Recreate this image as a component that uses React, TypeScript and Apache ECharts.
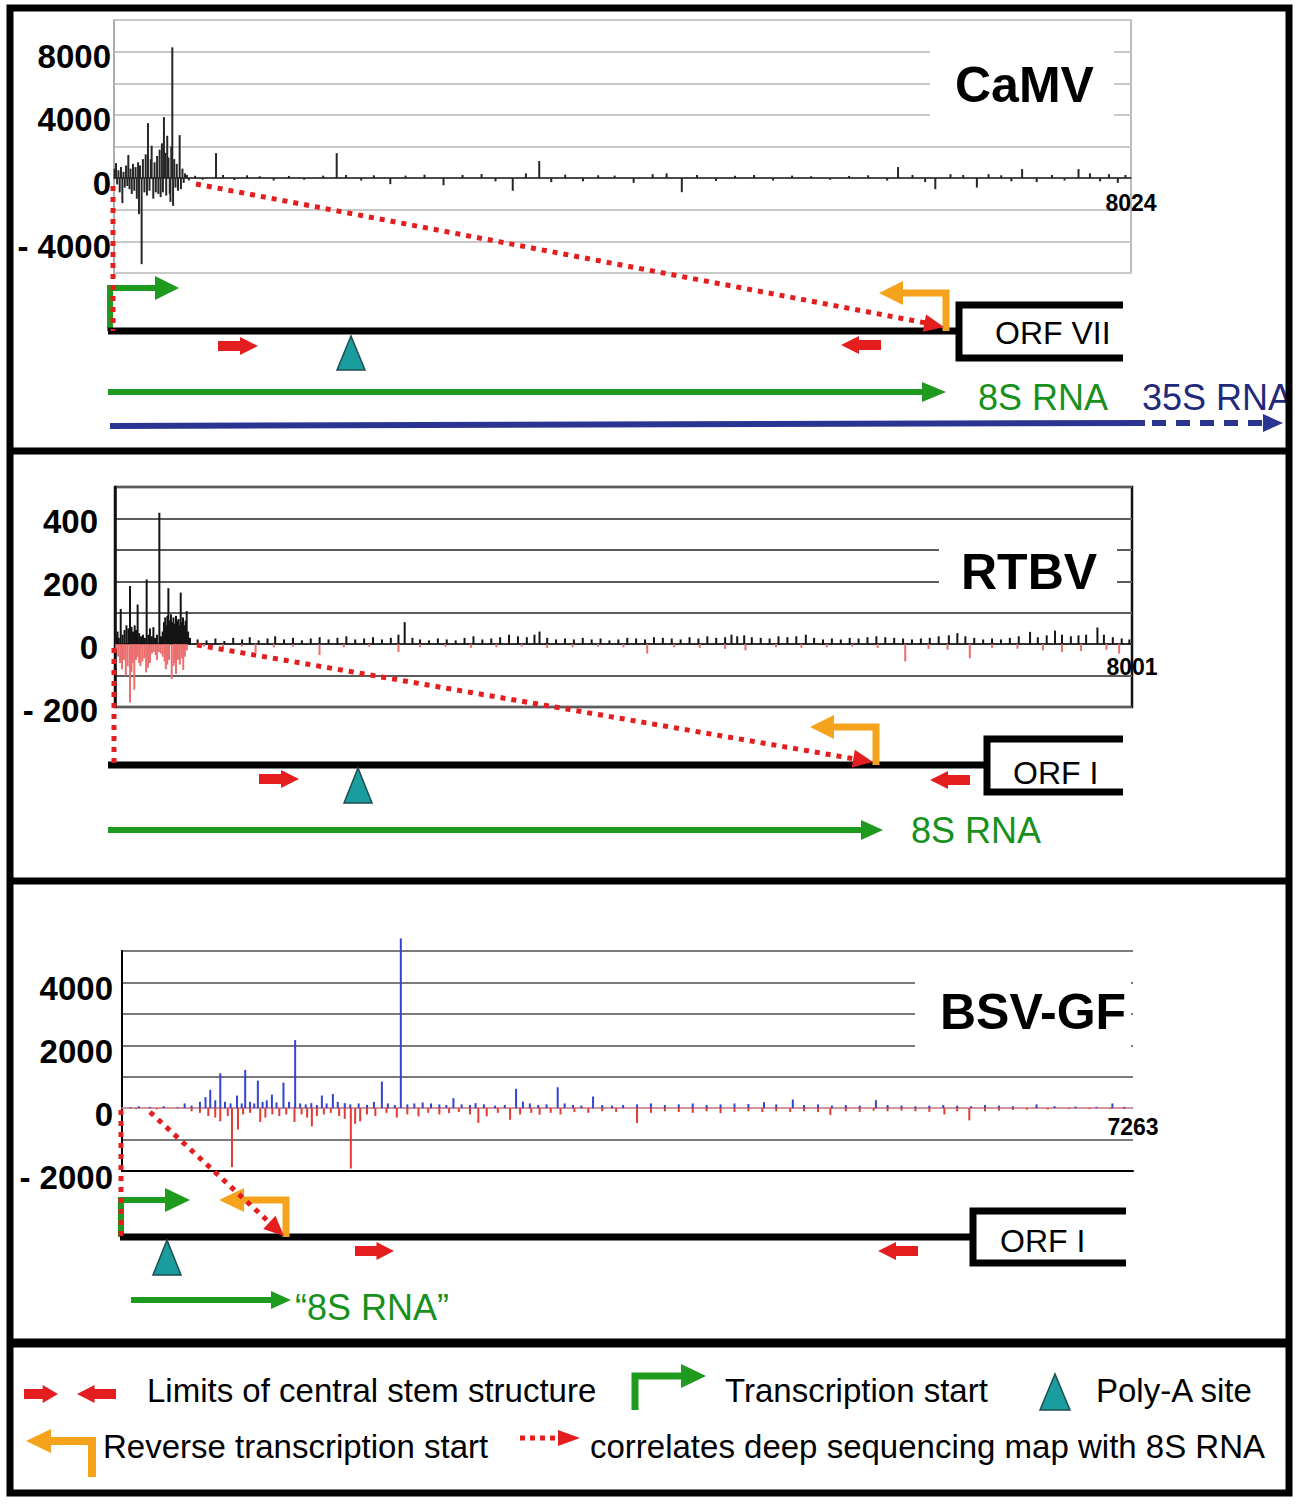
import React, { useEffect, useRef } from 'react';
import * as echarts from 'echarts';

const FONT = '"Liberation Sans", Arial, Helvetica, sans-serif';

// ---------- CaMV (genome length 8024) ----------
const camvLen = 8024;
const camvTicks = [8000, 4000, 0, -4000];
const camvReads: [number, number][] = [
  [5, 600], [16, 950], [25, -400], [35, 500], [45, -900], [55, 700], [66, -1580], [75, 400],
  [85, -600], [95, 800], [105, -500], [113, 1460], [122, -700], [130, 600], [140, -1000],
  [150, 900], [160, -800], [170, 700], [180, -1300], [190, 1000], [197, -2280], [205, 800],
  [218, -5440], [228, 1200], [240, -900], [250, 1500], [260, -1100], [268, 3480], [280, -800],
  [290, 1200], [297, 2050], [310, -1300], [320, 1000], [330, -900], [340, 1400], [350, -1000],
  [360, 1800], [368, -1200], [378, 2200], [386, -900], [394, 3860], [405, 1600], [412, -1100],
  [420, 2680], [430, 1300], [440, -1000], [445, -1500], [452, 2000], [460, 8270], [466, -1750],
  [475, 1200], [485, -600], [495, 900], [505, -800], [518, 2720], [528, -700], [540, 600],
  [550, -300], [560, 300], [575, 200], [590, -150], [640, 150], [700, -100], [805, 1580],
  [860, 200], [950, -120], [1050, 180], [1150, 120], [1260, -150], [1380, 140], [1500, -100],
  [1650, 160], [1757, 1580], [1830, 200], [1950, -150], [2050, 180], [2180, -380], [2300, 160],
  [2450, 220], [2600, -450], [2750, 200], [2900, 260], [3010, -200], [3146, -800], [3250, 300],
  [3355, 1080], [3450, -250], [3560, 220], [3700, -200], [3820, 180], [3950, 160], [4100, -300],
  [4250, 250], [4360, 300], [4480, -890], [4600, 200], [4750, -180], [4900, 150], [5050, 200],
  [5200, -150], [5350, 160], [5500, 120], [5650, -100], [5800, 140], [5950, 180], [6100, -150],
  [6186, 700], [6300, 200], [6400, -250], [6480, -700], [6600, 250], [6700, 200], [6808, -600],
  [6900, 250], [7000, 180], [7080, -200], [7165, 570], [7280, -250], [7400, 200], [7500, -150],
  [7610, 570], [7700, 300], [7780, -200], [7850, 250], [7920, -300], [7980, 200],
];

// ---------- RTBV (genome length 8001) ----------
const rtbvLen = 8001;
const rtbvTicks = [400, 200, 0, -200];
const rtbvPlus: [number, number][] = [
  [8, 25], [20, 40], [30, 20], [45, 112], [60, 30], [75, 45], [90, 60], [105, 50], [118, 185],
  [130, 55], [142, 40], [155, 60], [165, 45], [178, 126], [190, 35], [205, 25], [220, 30],
  [235, 20], [249, 206], [262, 30], [275, 50], [290, 25], [302, 54], [315, 20], [330, 30],
  [349, 418], [362, 25], [375, 40], [385, 70], [395, 85], [405, 60], [412, 90], [420, 178],
  [430, 75], [440, 95], [450, 70], [460, 85], [470, 65], [480, 90], [490, 75], [500, 80],
  [510, 60], [517, 164], [525, 70], [535, 85], [545, 60], [555, 75], [564, 105], [575, 40],
  [590, 20], [650, 15], [720, 12], [790, 18], [860, 10], [930, 20], [1000, 15], [1060, 22],
  [1130, 12], [1200, 18], [1260, 25], [1330, 15], [1400, 20], [1470, 12], [1540, 18], [1610, 22],
  [1680, 15], [1750, 20], [1820, 25], [1890, 15], [1960, 18], [2030, 22], [2100, 15], [2170, 20],
  [2230, 30], [2279, 70], [2340, 20], [2400, 15], [2470, 12], [2540, 18], [2610, 15], [2680, 12],
  [2750, 20], [2820, 25], [2890, 15], [2960, 18], [3030, 22], [3100, 30], [3170, 25], [3240, 22],
  [3300, 30], [3340, 40], [3400, 20], [3470, 15], [3540, 18], [3610, 15], [3680, 20], [3750, 15],
  [3820, 18], [3890, 12], [3960, 15], [4030, 20], [4100, 18], [4170, 15], [4240, 22], [4310, 20],
  [4380, 18], [4450, 15], [4520, 22], [4590, 18], [4660, 25], [4730, 20], [4800, 22], [4850, 30],
  [4895, 25], [4950, 28], [5010, 22], [5080, 20], [5150, 18], [5220, 25], [5290, 22], [5360, 25],
  [5435, 30], [5500, 20], [5570, 15], [5640, 18], [5710, 15], [5780, 20], [5850, 18], [5920, 22],
  [5990, 25], [6060, 22], [6130, 20], [6200, 18], [6270, 15], [6340, 18], [6410, 20], [6480, 25],
  [6560, 28], [6627, 35], [6690, 25], [6760, 20], [6830, 15], [6900, 18], [6970, 15], [7040, 20],
  [7110, 25], [7199, 39], [7260, 22], [7330, 28], [7395, 43], [7450, 30], [7520, 25], [7580, 28],
  [7640, 30], [7729, 53], [7780, 30], [7850, 22], [7920, 18], [7980, 15],
];
const rtbvMinus: [number, number][] = [
  [10, -20], [25, -40], [40, -60], [55, -80], [70, -50], [85, -100], [100, -70], [118, -186],
  [130, -90], [140, -60], [152, -145], [165, -50], [178, -40], [190, -60], [200, -70], [215, -55],
  [230, -45], [245, -90], [260, -75], [275, -60], [290, -30], [305, -25], [320, -35], [330, -50],
  [345, -25], [360, -30], [375, -40], [390, -55], [400, -80], [412, -65], [425, -50], [446, -111],
  [460, -70], [470, -60], [480, -95], [495, -50], [510, -65], [525, -45], [537, -82], [550, -40],
  [565, -20], [700, -8], [850, -10], [1000, -8], [1106, -25], [1250, -10], [1400, -8], [1609, -35],
  [1800, -10], [2000, -8], [2230, -25], [2400, -10], [2600, -8], [2800, -12], [3000, -10],
  [3200, -8], [3400, -12], [3600, -10], [3800, -8], [4000, -10], [4187, -30], [4400, -10],
  [4600, -12], [4800, -15], [4960, -20], [5200, -10], [5400, -12], [5600, -10], [5800, -8],
  [6000, -12], [6217, -55], [6400, -15], [6550, -18], [6725, -45], [6900, -12], [7100, -15],
  [7300, -20], [7450, -25], [7600, -22], [7800, -18], [7900, -30],
];

// ---------- BSV-GF (genome length 7263) ----------
const bsvLen = 7263;
const bsvTicks = [4000, 2000, 0, -2000];
const bsvPlus: [number, number][] = [
  [60, 30], [120, 60], [200, 40], [300, 60], [400, 30], [450, 150], [500, 80], [560, 200],
  [600, 350], [634, 582], [670, 250], [706, 1108], [740, 200], [780, 150], [826, 400], [860, 150],
  [885, 1215], [920, 200], [950, 150], [976, 877], [1010, 200], [1040, 250], [1077, 430],
  [1110, 180], [1160, 813], [1200, 200], [1244, 2165], [1280, 150], [1320, 120], [1360, 160],
  [1400, 100], [1436, 400], [1470, 150], [1515, 450], [1550, 200], [1600, 160], [1640, 120],
  [1700, 150], [1760, 100], [1810, 200], [1867, 845], [1910, 150], [1960, 100], [2003, 5400],
  [2050, 120], [2100, 150], [2160, 180], [2220, 150], [2280, 120], [2330, 100], [2381, 316],
  [2440, 120], [2500, 100], [2540, 160], [2600, 120], [2680, 80], [2750, 100], [2831, 614],
  [2880, 210], [2930, 150], [2990, 100], [3050, 120], [3130, 665], [3180, 150], [3240, 100],
  [3300, 80], [3384, 370], [3450, 100], [3520, 80], [3600, 100], [3700, 120], [3800, 150],
  [3900, 100], [4000, 120], [4100, 150], [4200, 100], [4300, 120], [4400, 150], [4500, 130],
  [4612, 190], [4700, 120], [4819, 275], [4900, 100], [5000, 120], [5100, 80], [5200, 100],
  [5300, 80], [5416, 255], [5500, 100], [5600, 80], [5700, 60], [5800, 80], [5900, 100],
  [6000, 80], [6100, 60], [6200, 100], [6300, 80], [6400, 60], [6570, 120], [6700, 60],
  [6850, 50], [7000, 40], [7115, 150], [7200, 40],
];
const bsvMinus: [number, number][] = [
  [100, -30], [250, -40], [500, -100], [560, -150], [620, -250], [670, -300], [706, -420],
  [760, -250], [790, -1877], [833, -680], [870, -200], [920, -150], [993, -440], [1030, -300],
  [1080, -200], [1130, -250], [1180, -200], [1239, -440], [1290, -200], [1330, -300], [1364, -580],
  [1400, -250], [1450, -200], [1500, -150], [1560, -250], [1600, -340], [1644, -1920], [1675, -500],
  [1711, -420], [1760, -200], [1820, -250], [1900, -150], [1974, -300], [2050, -200], [2130, -260],
  [2200, -150], [2280, -200], [2350, -160], [2420, -120], [2500, -200], [2560, -470], [2620, -260],
  [2700, -150], [2788, -370], [2860, -200], [2940, -150], [3000, -210], [3080, -150], [3150, -200],
  [3250, -120], [3350, -150], [3450, -100], [3550, -120], [3700, -475], [3800, -150], [3900, -100],
  [4000, -120], [4100, -150], [4200, -100], [4300, -160], [4400, -120], [4500, -100], [4600, -120],
  [4700, -100], [4800, -120], [4900, -100], [5000, -120], [5089, -220], [5200, -100], [5300, -120],
  [5400, -80], [5500, -100], [5600, -80], [5700, -100], [5800, -120], [5908, -200], [6000, -100],
  [6087, -390], [6200, -100], [6300, -80], [6400, -60], [6500, -50], [6650, -40], [6800, -30],
  [6950, -30], [7100, -25], [7200, -20],
];

const RED = '#e41e1e';
const GREEN = '#1e9a1e';
const ORANGE = '#f5a31c';
const BLUE = '#2a3592';
const TEAL = '#1b9c9e';
const TXTGREEN = '#17901c';

const yFmt = (ticks: number[]) => (v: number) =>
  ticks.includes(v) ? (v < 0 ? '- ' + Math.abs(v) : String(v)) : '';
const xFmt = (len: number) => (v: number) => (v === len ? String(len) : '');

// graphic helpers
const line = (x1: number, y1: number, x2: number, y2: number, stroke: string, lw: number, dash?: number[]) => ({
  type: 'line', z: 100, shape: { x1, y1, x2, y2 },
  style: { stroke, lineWidth: lw, lineDash: dash, lineCap: 'butt' },
});
const poly = (points: number[][], fill: string, stroke?: string) => ({
  type: 'polygon', z: 100, shape: { points },
  style: { fill, stroke: stroke || null, lineWidth: stroke ? 1.5 : 0 },
});
const pline = (points: number[][], stroke: string, lw: number) => ({
  type: 'polyline', z: 100, shape: { points },
  style: { stroke, lineWidth: lw, fill: null, lineJoin: 'miter', lineCap: 'butt' },
});
const txt = (x: number, y: number, text: string, size: number, color: string, weight = 'normal') => ({
  type: 'text', z: 110, x, y,
  style: {
    text, fill: color, font: `${weight} ${size}px ${FONT}`,
    textAlign: 'left', textVerticalAlign: 'middle', align: 'left', verticalAlign: 'middle',
  },
});
const rect = (x: number, y: number, w: number, h: number) => ({
  type: 'rect', z: 90, shape: { x, y, width: w, height: h }, style: { fill: '#fff' },
});
const head = (tx: number, ty: number, dx: number, dy: number, len: number, hw: number, color: string) => {
  const d = Math.sqrt(dx * dx + dy * dy);
  const ux = dx / d, uy = dy / d;
  const bx = tx - ux * len, by = ty - uy * len;
  return poly([[tx, ty], [bx - uy * hw, by + ux * hw], [bx + uy * hw, by - ux * hw]], color);
};
const rArrow = (x0: number, x1: number, cy: number) => {
  const m = x0 + (x1 - x0) * 0.55;
  return poly([[x0, cy - 5], [m, cy - 5], [m, cy - 9], [x1, cy], [m, cy + 9], [m, cy + 5], [x0, cy + 5]], RED);
};
const lArrow = (x0: number, x1: number, cy: number) => {
  const m = x1 - (x1 - x0) * 0.55;
  return poly([[x1, cy - 5], [m, cy - 5], [m, cy - 9], [x0, cy], [m, cy + 9], [m, cy + 5], [x1, cy + 5]], RED);
};
const tri = (cx: number, top: number, bot: number, hw: number) =>
  poly([[cx, top], [cx + hw, bot], [cx - hw, bot]], TEAL, '#1d4d50');
const DOT = [5, 6];

const elements: any[] = [
  // ----- panel 1: CaMV -----
  rect(930, 40, 184, 92),
  txt(955, 85, 'CaMV', 50, '#000', 'bold'),
  pline([[110, 331], [110, 288], [158, 288]], GREEN, 6),
  head(179, 288, 1, 0, 24, 12, GREEN),
  line(108, 331, 958, 331, '#000', 7),
  pline([[1123, 305], [959, 305], [959, 358], [1123, 358]], '#000', 7),
  txt(995, 333, 'ORF VII', 32, '#000'),
  pline([[946, 331], [946, 293], [902, 293]], ORANGE, 7),
  head(879, 293, -1, 0, 24, 12, ORANGE),
  line(113, 186, 113, 331, RED, 5, DOT),
  line(196, 184, 926, 323, RED, 5, DOT),
  head(944, 327, 944 - 196, 327 - 184, 20, 9, RED),
  rArrow(218, 258, 346),
  lArrow(841, 881, 345),
  tri(351, 336, 370, 14),
  line(108, 392, 925, 392, GREEN, 6),
  head(946, 392, 1, 0, 24, 10, GREEN),
  txt(978, 397, '8S RNA', 36, TXTGREEN),
  txt(1142, 397, '35S RNA', 36, '#1f2a7a'),
  line(110, 426, 1145, 423, BLUE, 6),
  line(1152, 423, 1262, 423, BLUE, 6, [14, 10]),
  head(1283, 423, 1, 0, 20, 9, BLUE),

  // ----- panel 2: RTBV -----
  rect(939, 540, 178, 60),
  txt(961, 572, 'RTBV', 50, '#000', 'bold'),
  line(108, 765, 988, 765, '#000', 7),
  pline([[1123, 739], [987, 739], [987, 792], [1123, 792]], '#000', 7),
  txt(1013, 773, 'ORF I', 32, '#000'),
  pline([[876, 765], [876, 727], [833, 727]], ORANGE, 7),
  head(810, 727, -1, 0, 24, 12, ORANGE),
  line(114, 648, 114, 765, RED, 5, DOT),
  line(197, 645, 855, 759, RED, 5, DOT),
  head(873, 762, 873 - 197, 762 - 645, 20, 9, RED),
  rArrow(259, 299, 779),
  lArrow(930, 970, 780),
  tri(358, 768, 803, 14),
  line(108, 830, 866, 830, GREEN, 6),
  head(883, 830, 1, 0, 22, 10, GREEN),
  txt(911, 830, '8S RNA', 36, TXTGREEN),

  // ----- panel 3: BSV-GF -----
  rect(915, 970, 216, 88),
  txt(940, 1012, 'BSV-GF', 50, '#000', 'bold'),
  pline([[121, 1237], [121, 1200], [166, 1200]], GREEN, 6),
  head(190, 1200, 1, 0, 25, 12, GREEN),
  line(120, 1237, 974, 1237, '#000', 7),
  pline([[1126, 1211], [973, 1211], [973, 1263], [1126, 1263]], '#000', 7),
  txt(1000, 1241, 'ORF I', 32, '#000'),
  pline([[286, 1237], [286, 1200], [243, 1200]], ORANGE, 7),
  head(219, 1200, -1, 0, 25, 12, ORANGE),
  line(121, 1110, 121, 1237, RED, 5, DOT),
  line(150, 1112, 270, 1223, RED, 5, DOT),
  head(284, 1236, 134, 124, 20, 9, RED),
  rArrow(355, 394, 1251),
  lArrow(878, 918, 1251),
  tri(167, 1240, 1275, 14),
  line(131, 1300, 275, 1300, GREEN, 6),
  head(291, 1300, 1, 0, 20, 9, GREEN),
  txt(295, 1307, '\u201c8S RNA\u201d', 36, TXTGREEN),

  // ----- legend -----
  rArrow(24, 58, 1394),
  lArrow(77, 116, 1394),
  txt(147, 1390, 'Limits of central stem structure', 33, '#000'),
  pline([[635, 1410], [635, 1376], [682, 1376]], GREEN, 7),
  head(706, 1376, 1, 0, 25, 12, GREEN),
  txt(725, 1390, 'Transcription start', 33, '#000'),
  tri(1055, 1374, 1410, 15),
  txt(1096, 1390, 'Poly-A site', 33, '#000'),
  pline([[92, 1477], [92, 1441], [50, 1441]], ORANGE, 8),
  head(26, 1441, -1, 0, 25, 12, ORANGE),
  txt(103, 1446, 'Reverse transcription start', 33, '#000'),
  line(520, 1438, 558, 1438, RED, 5, [5, 5]),
  head(580, 1438, 1, 0, 22, 8, RED),
  txt(590, 1446, 'correlates deep sequencing map with 8S RNA', 33, '#000'),

  // ----- frame -----
  { type: 'rect', z: 120, shape: { x: 10, y: 8, width: 1279, height: 1485 }, style: { fill: null, stroke: '#000', lineWidth: 7 } },
  { ...line(10, 451, 1289, 451, '#000', 7), z: 120 },
  { ...line(10, 881, 1289, 881, '#000', 7), z: 120 },
  { ...line(10, 1343, 1289, 1343, '#000', 9), z: 120 },
];

// tick labels sit a few pixels below their grid line, as in the figure:
// top-aligned with a small line height puts the glyph centre lineH/2 below the tick
const yLabel = (ticks: number[], margin: number, lineH: number) => ({
  formatter: yFmt(ticks), margin, verticalAlign: 'top', lineHeight: lineH,
  color: '#000', fontSize: 33, fontWeight: 'bold', fontFamily: FONT,
});
// labels of the genome end sit just under the zero line
const xLabel = (len: number, margin: number) => ({
  formatter: xFmt(len), margin, showMaxLabel: true, showMinLabel: false,
  color: '#000', fontSize: 23, fontWeight: 'bold', fontFamily: FONT,
});

export default function App() {
  const ref = useRef<HTMLDivElement>(null);
  useEffect(() => {
    if (!ref.current) return;
    const chart = echarts.init(ref.current, undefined, { renderer: 'svg' });
    chart.setOption({
      animation: false,
      backgroundColor: '#fff',
      grid: [
        { left: 114, top: 20, width: 1017, height: 253, show: true, borderColor: '#a8a8a8', borderWidth: 1.5, outerBoundsMode: 'none' },
        { left: 115, top: 487, width: 1017, height: 220, show: true, borderColor: '#111', borderWidth: 2.5, outerBoundsMode: 'none' },
        { left: 122, top: 951, width: 1011, height: 220, outerBoundsMode: 'none' },
      ],
      xAxis: [
        { gridIndex: 0, type: 'value', min: 0, max: camvLen, interval: camvLen,
          axisLine: { onZero: true, lineStyle: { color: '#222', width: 1.5 } },
          axisTick: { show: false }, splitLine: { show: false }, axisLabel: xLabel(camvLen, -82) },
        { gridIndex: 1, type: 'value', min: 0, max: rtbvLen, interval: rtbvLen,
          axisLine: { onZero: true, lineStyle: { color: '#222', width: 1.5 } },
          axisTick: { show: false }, splitLine: { show: false }, axisLabel: xLabel(rtbvLen, -52) },
        { gridIndex: 2, type: 'value', min: 0, max: bsvLen, interval: bsvLen, position: 'bottom',
          axisLine: { onZero: true, lineStyle: { color: '#f0a0a8', width: 1.5 } },
          axisTick: { show: false }, splitLine: { show: false }, axisLabel: xLabel(bsvLen, -56) },
        { gridIndex: 2, type: 'value', min: 0, max: bsvLen, position: 'bottom',
          axisLine: { onZero: false, lineStyle: { color: '#000', width: 2 } },
          axisTick: { show: false }, splitLine: { show: false }, axisLabel: { show: false } },
      ],
      yAxis: [
        { gridIndex: 0, type: 'value', min: -6000, max: 10000, interval: 2000,
          axisLine: { show: true, lineStyle: { color: '#a8a8a8', width: 1.5 } },
          axisTick: { show: false }, splitLine: { lineStyle: { color: '#c8c8c8', width: 2 } },
          axisLabel: yLabel(camvTicks, 3, 10) },
        { gridIndex: 1, type: 'value', min: -200, max: 500, interval: 100,
          axisLine: { show: true, lineStyle: { color: '#111', width: 2.5 } },
          axisTick: { show: false }, splitLine: { lineStyle: { color: '#5c5c5c', width: 2 } },
          axisLabel: yLabel(rtbvTicks, 17, 6) },
        { gridIndex: 2, type: 'value', min: -2000, max: 5000, interval: 1000,
          axisLine: { show: true, lineStyle: { color: '#000', width: 2 } },
          axisTick: { show: false }, splitLine: { lineStyle: { color: '#7a7a7a', width: 2 } },
          axisLabel: yLabel(bsvTicks, 9, 12) },
        { gridIndex: 2, type: 'value', min: -2000, max: 5000, interval: 1000, position: 'right',
          axisLine: { show: true, lineStyle: { color: '#000', width: 2 } },
          axisTick: { show: false }, splitLine: { show: false }, axisLabel: { show: false } },
      ],
      series: [
        { type: 'bar', xAxisIndex: 0, yAxisIndex: 0, data: camvReads, barWidth: 2, silent: true,
          itemStyle: { color: '#262626' } },
        { type: 'bar', xAxisIndex: 1, yAxisIndex: 1, data: rtbvPlus, barWidth: 2, barGap: '-100%', silent: true,
          itemStyle: { color: '#141414' } },
        { type: 'bar', xAxisIndex: 1, yAxisIndex: 1, data: rtbvMinus, barWidth: 2, barGap: '-100%', silent: true,
          itemStyle: { color: '#ec6f6f' } },
        { type: 'bar', xAxisIndex: 2, yAxisIndex: 2, data: bsvPlus, barWidth: 2, barGap: '-100%', clip: false, silent: true,
          itemStyle: { color: '#3344d4' } },
        { type: 'bar', xAxisIndex: 2, yAxisIndex: 2, data: bsvMinus, barWidth: 2, barGap: '-100%', silent: true,
          itemStyle: { color: '#e53935' } },
      ],
      graphic: { elements },
    });
    return () => chart.dispose();
  }, []);
  return (
    <div
      ref={ref}
      style={{ position: 'absolute', left: 0, top: 0, width: 1300, height: 1507, background: '#fff' }}
    />
  );
}
